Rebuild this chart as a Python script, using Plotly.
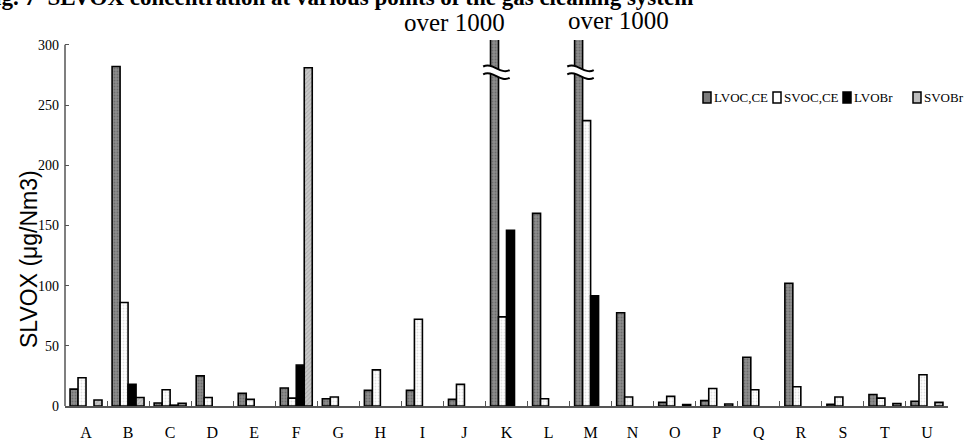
import plotly.graph_objects as go

categories = list("ABCDEFGHIJKLMNOPQRSTU")
series_names = ["LVOC,CE", "SVOC,CE", "LVOBr", "SVOBr"]
lvoc_ce = [14, 282, 2.5, 25, 10.5, 15, 6, 13, 13, 5.5, 1000, 160, 1000, 77.5, 3, 4.5, 40.5, 102, 1.5, 9.5, 4]
svoc_ce = [23.5, 86, 13.5, 7, 5.5, 6.5, 7.5, 30, 72, 18, 74, 6, 237, 7.5, 8, 14.5, 13.5, 16, 7.5, 6.5, 26]
lvobr = [None, 18, 0.7, None, None, 34, None, None, None, None, 146, None, 91.5, None, None, None, None, None, None, None, None]
svobr = [5, 7, 2.2, None, None, 281, None, None, None, None, None, None, None, None, 1.2, 1.7, None, None, None, 2, 3]
over_labels = {"K": "over 1000", "M": "over 1000"}
y_ticks = [0, 50, 100, 150, 200, 250, 300]

BARGAP = 0.24
NSER = 4
W = (1 - BARGAP) / NSER

# layout geometry (pixels)
WIDTH, HEIGHT = 969, 440
ML, MR, MT, MB = 65, 21, 40, 34
PW = WIDTH - ML - MR
PH = HEIGHT - MT - MB


def px_x(px):
    return (px - ML) / PW


def px_y(py):
    return (HEIGHT - MB - py) / PH


serif = "Liberation Serif, Times New Roman, serif"

styles = [
    dict(color="#8a8a8a", pattern=dict(shape=".", bgcolor="#8e8e8e", fgcolor="#4a4a4a", size=3, solidity=0.35)),
    dict(color="white", pattern=dict(shape=".", bgcolor="white", fgcolor="#c4c4c4", size=3, solidity=0.3)),
    dict(color="black"),
    dict(color="#c2c2c2", pattern=dict(shape="/", bgcolor="#c8c8c8", fgcolor="#8a8a8a", size=3, solidity=0.3)),
]
swatch_fill = ["#7c7c7c", "white", "black", "#bdbdbd"]

fig = go.Figure()
for name, vals, st in zip(series_names, [lvoc_ce, svoc_ce, lvobr, svobr], styles):
    fig.add_trace(go.Bar(
        x=categories, y=vals, name=name, showlegend=False,
        marker=dict(line=dict(color="black", width=1.6), **st),
    ))

shapes = []
annotations = []

# axis break marks on bars that exceed the range
for cat in over_labels:
    i = categories.index(cat)
    xc = i - 1.5 * W
    x0, x1 = xc - 0.27, xc + 0.36
    xm1, xm2 = x0 + (x1 - x0) * 0.35, x0 + (x1 - x0) * 0.65
    yt, yb = 282.0, 275.5
    tilt = 3.0
    top = f"M {x0},{yt} C {xm1},{yt + 4} {xm2},{yt - 4 - tilt} {x1},{yt - tilt}"
    bot_r = f"L {x1},{yb - tilt} C {xm2},{yb - 4 - tilt} {xm1},{yb + 4} {x0},{yb} Z"
    shapes.append(dict(type="path", xref="x", yref="y", path=top + " " + bot_r,
                       fillcolor="white", line=dict(width=0), layer="above"))
    shapes.append(dict(type="path", xref="x", yref="y", path=top,
                       line=dict(color="black", width=2), layer="above"))
    shapes.append(dict(type="path", xref="x", yref="y",
                       path=f"M {x0},{yb} C {xm1},{yb + 4} {xm2},{yb - 4 - tilt} {x1},{yb - tilt}",
                       line=dict(color="black", width=2), layer="above"))

annotations.append(dict(x=categories.index("K") - 1.5 * W + 0.3, y=1.0, xref="x", yref="paper",
                        text=over_labels["K"], showarrow=False, xanchor="right", yanchor="bottom",
                        yshift=2, font=dict(family=serif, size=25, color="black")))
annotations.append(dict(x=categories.index("M") - 1.5 * W - 0.3, y=1.0, xref="x", yref="paper",
                        text=over_labels["M"], showarrow=False, xanchor="left", yanchor="bottom",
                        yshift=4, font=dict(family=serif, size=25, color="black")))

# cut-off caption at top
annotations.append(dict(x=px_x(-21), y=px_y(12), xref="paper", yref="paper",
                        text="<b>Fig. 7  SLVOX concentration at various points of the gas cleaning system</b>",
                        showarrow=False, xanchor="left", yanchor="bottom",
                        font=dict(family=serif, size=23, color="black")))

# y-axis title
annotations.append(dict(x=px_x(29), y=px_y(259), xref="paper", yref="paper",
                        text="SLVOX (μg/Nm3)", textangle=-90, showarrow=False,
                        xanchor="center", yanchor="middle",
                        font=dict(family="Liberation Sans, Arial, sans-serif", size=23, color="black")))

# custom legend
leg_x = [703, 773, 843, 913]
for name, fill, lx in zip(series_names, swatch_fill, leg_x):
    shapes.append(dict(type="rect", xref="paper", yref="paper",
                       x0=px_x(lx), x1=px_x(lx + 8), y0=px_y(103), y1=px_y(92),
                       fillcolor=fill, line=dict(color="black", width=1.5)))
    annotations.append(dict(x=px_x(lx + 9), y=px_y(97.5), xref="paper", yref="paper",
                            text=name, showarrow=False, xanchor="left", yanchor="middle",
                            font=dict(family=serif, size=13, color="black")))

# y axis line only up to 300
shapes.append(dict(type="line", xref="paper", yref="y", x0=0, x1=0, y0=0, y1=300,
                   line=dict(color="#555", width=1.5)))

fig.update_layout(
    width=WIDTH, height=HEIGHT,
    margin=dict(l=ML, r=MR, t=MT, b=MB, autoexpand=False),
    paper_bgcolor="white", plot_bgcolor="white",
    barmode="group", bargap=BARGAP, bargroupgap=0,
    shapes=shapes, annotations=annotations,
    font=dict(family=serif, color="black"),
    showlegend=False,
    xaxis=dict(type="category", showline=True, linecolor="#555", linewidth=1.5,
               ticks="inside", ticklen=5, tickcolor="#555", tickson="boundaries",
               tickfont=dict(family=serif, size=16), ticklabelstandoff=11,
               showgrid=False, zeroline=False),
    yaxis=dict(range=[0, 304], tickvals=y_ticks, showline=False,
               ticks="inside", ticklen=4, tickcolor="#555", ticklabelstandoff=5,
               tickfont=dict(family=serif, size=14), showgrid=False, zeroline=False),
)

fig.write_html("out.html", config={"displayModeBar": False},
               post_script="document.body.style.margin='0px';document.body.style.overflow='hidden';")
